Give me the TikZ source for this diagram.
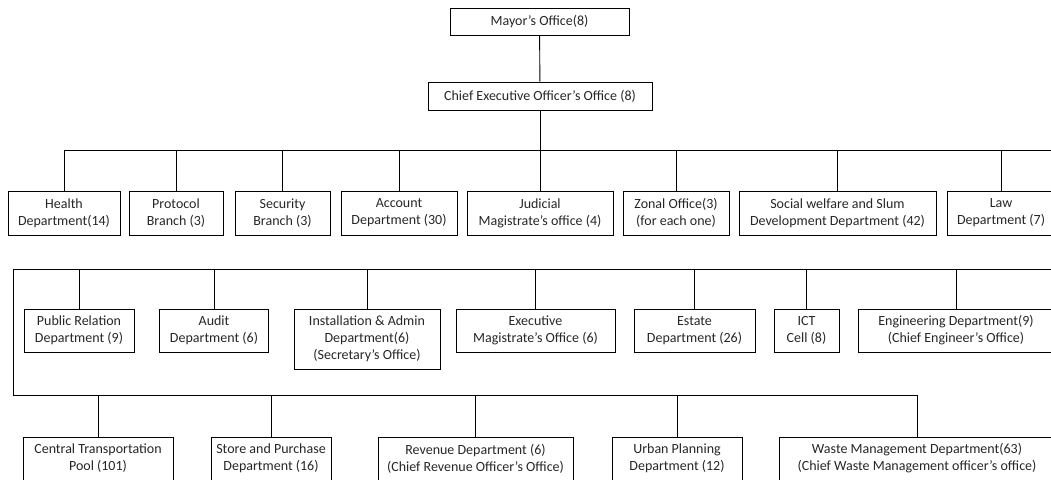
\documentclass[tikz,border=0pt]{standalone}
\usepackage{fontspec}
\setmainfont{Carlito}
\begin{document}
\begin{tikzpicture}
[x=1pt,y=-1pt,
  boxDecorate/.style={shape=rectangle,draw,line width=0.9pt,align=center,inner sep=0pt,
    text=black!85,font=\fontsize{14}{17}\selectfont},
  lineDecorate/.style={-,line width=0.9pt},
  dropDecorate/.style={lineDecorate,to path={-| (\tikztotarget)}}]
\useasboundingbox (0,0) rectangle (1051,479);
\clip (0,0) rectangle (1051,479);
%% boxes
\foreach \nodename/\x/\y/\w/\h/\txt in {
  mayor/539.5/21.5/179/27/{Mayor’s Office(8)},
  ceo/540/96/224/28/{Chief Executive Officer’s Office (8)},
  health/64/213/112/44/{Health\\Department(14)},
  protocol/176/213/94/44/{Protocol\\Branch (3)},
  security/282.5/213/95/44/{Security\\Branch (3)},
  account/399/213/116/44/{Account\\Department (30)},
  judicial/540/213/146/44/{Judicial\\Magistrate’s office (4)},
  zonal/676/213/106/44/{Zonal Office(3)\\(for each one)},
  social/837.5/213/197/44/{Social welfare and Slum\\Development Department (42)},
  law/1001/213/108/44/{Law\\Department (7)},
  pr/79/330.5/110/43/{Public Relation\\Department (9)},
  audit/214/330.5/109/43/{Audit\\Department (6)},
  install/367/339/146/60/{Installation \& Admin\\Department(6)\\(Secretary’s Office)},
  exec/535.5/330.5/159/43/{Executive\\Magistrate’s Office (6)},
  estate/694.5/330.5/121/43/{Estate\\Department (26)},
  ict/806.5/330.5/65/43/{ICT\\Cell (8)},
  eng/956/330.5/196/43/{Engineering Department(9)\\(Chief Engineer’s Office)},
  central/98/458.5/150/43/{Central Transportation\\Pool (101)},
  store/271/458.5/120/43/{Store and Purchase\\Department (16)},
  revenue/475.5/458.5/195/43/{Revenue Department (6)\\(Chief Revenue Officer’s Office)},
  urban/677/458.5/130/43/{Urban Planning\\Department (12)},
  waste/917/458.5/276/43/{Waste Management Department(63)\\(Chief Waste Management officer’s office)}}
{
  \node (\nodename) at (\x,\y) [boxDecorate,minimum width=\w,minimum height=\h] {\txt};
}
%% bus points
\coordinate (bus1) at (540,150);
\coordinate (bus1r) at (1060,150);
\coordinate (bus2) at (13,269);
\coordinate (bus2r) at (1060,269);
\coordinate (bus3) at (13,395);
%% lines
\draw[lineDecorate] (mayor) -- (ceo);
\draw[lineDecorate] (ceo) -- (bus1) -- (bus1r);
\draw[lineDecorate] (bus2r) -- (bus2) -- (bus3);
\path
\foreach \endnode in {health,protocol,security,account,judicial,zonal,social,law}
{
  (bus1) edge[dropDecorate] (\endnode)
}
\foreach \endnode in {pr,audit,install,exec,estate,ict,eng}
{
  (bus2) edge[dropDecorate] (\endnode)
}
\foreach \endnode in {central,store,revenue,urban,waste}
{
  (bus3) edge[dropDecorate] (\endnode)
};
\end{tikzpicture}
\end{document}
